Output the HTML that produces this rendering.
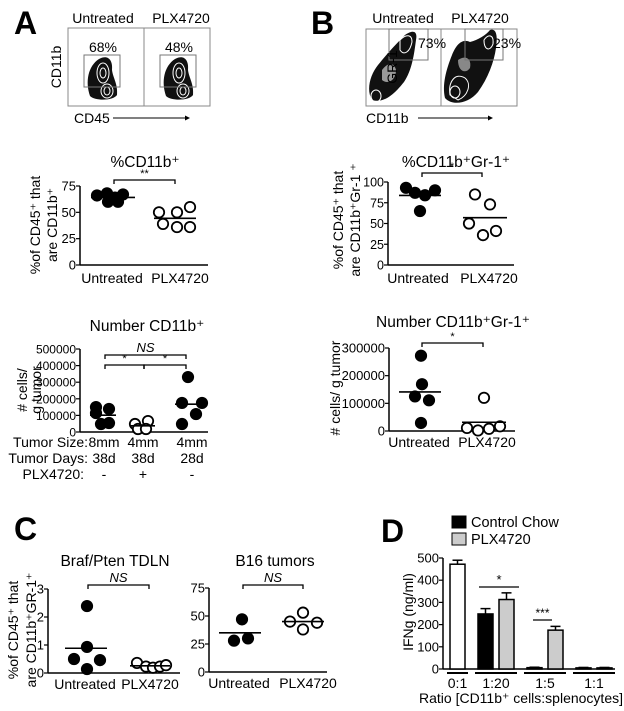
<!DOCTYPE html>
<html><head><meta charset="utf-8"><style>
html,body{margin:0;padding:0;background:#fff}
svg{display:block;font-family:"Liberation Sans",Arial,sans-serif}
</style></head><body>
<svg id="fig" width="624" height="711" viewBox="0 0 624 711" xmlns="http://www.w3.org/2000/svg">
<text x="14" y="34" font-size="32" font-weight="bold">A</text>
<text x="311" y="34" font-size="32" font-weight="bold">B</text>
<text x="14" y="540" font-size="32" font-weight="bold">C</text>
<text x="381" y="542" font-size="32" font-weight="bold">D</text>

<g>
<text x="103" y="23" font-size="14" text-anchor="middle">Untreated</text>
<text x="181" y="23" font-size="14" text-anchor="middle">PLX4720</text>
<rect x="68" y="28" width="142" height="78" fill="none" stroke="#888" stroke-width="1"/>
<line x1="144" y1="28" x2="144" y2="106" stroke="#888"/>
<path d="M90,96 C85,82 88,66 99,59 C108,54 113,60 112,70 C113,78 118,84 117,95 C113,101 95,101 90,96Z" fill="#111"/>
<ellipse cx="103" cy="73" rx="6" ry="10" fill="none" stroke="#fff" stroke-width="1"/>
<ellipse cx="103" cy="73" rx="3" ry="5" fill="none" stroke="#fff" stroke-width="1"/>
<ellipse cx="107" cy="91" rx="6" ry="7" fill="none" stroke="#fff" stroke-width="1"/>
<ellipse cx="107" cy="91" rx="3" ry="4" fill="none" stroke="#fff" stroke-width="1"/>
<path d="M166,96 C161,82 164,66 175,59 C184,54 189,60 188,70 C189,78 194,84 193,95 C189,101 171,101 166,96Z" fill="#111"/>
<ellipse cx="179" cy="73" rx="6" ry="10" fill="none" stroke="#fff" stroke-width="1"/>
<ellipse cx="179" cy="73" rx="3" ry="5" fill="none" stroke="#fff" stroke-width="1"/>
<ellipse cx="183" cy="91" rx="6" ry="7" fill="none" stroke="#fff" stroke-width="1"/>
<ellipse cx="183" cy="91" rx="3" ry="4" fill="none" stroke="#fff" stroke-width="1"/>
<rect x="84" y="55" width="36" height="32" fill="none" stroke="#777"/>
<rect x="160" y="55" width="36" height="32" fill="none" stroke="#777"/>
<text x="103" y="52" font-size="14" text-anchor="middle">68%</text>
<text x="179" y="52" font-size="14" text-anchor="middle">48%</text>
<text transform="translate(61,67) rotate(-90)" font-size="14" text-anchor="middle">CD11b</text>
<text x="74" y="123" font-size="14">CD45</text>
<line x1="113" y1="118" x2="188" y2="118" stroke="#000"/>
<path d="M190,118 l-5,-2.5 v5z" fill="#000"/>
</g>

<g>
<text x="403" y="23" font-size="14" text-anchor="middle">Untreated</text>
<text x="480" y="23" font-size="14" text-anchor="middle">PLX4720</text>
<rect x="366" y="29" width="151" height="77" fill="none" stroke="#888"/>
<line x1="441" y1="29" x2="441" y2="106" stroke="#888"/>
<path d="M372,100 C366,90 370,75 378,65 C386,55 395,45 405,35 C412,30 418,30 416,40 C414,55 412,70 404,82 C396,92 385,104 372,100Z" fill="#111"/>
<path d="M382,70 C388,62 394,62 396,70 C396,80 388,85 382,80Z" fill="#999"/>
<path d="M400,40 C406,34 412,34 412,42 C410,52 404,56 400,50Z" fill="none" stroke="#fff"/>
<ellipse cx="376" cy="96" rx="5" ry="6" fill="none" stroke="#fff"/>
<path d="M445,98 C442,85 446,70 452,55 C456,45 462,38 470,42 C478,40 486,35 490,30 C496,28 498,35 496,48 C494,62 488,78 478,92 C468,104 452,106 445,98Z" fill="#111"/>
<path d="M458,60 C465,55 472,58 470,68 C466,74 458,72 458,60Z" fill="#888"/>
<path d="M450,95 C448,82 455,72 465,78 C472,84 468,96 458,100Z" fill="none" stroke="#fff"/>
<ellipse cx="455" cy="92" rx="5" ry="6" fill="none" stroke="#fff"/>
<path d="M484,40 C488,34 494,34 493,44 C490,52 484,50 484,40Z" fill="none" stroke="#fff"/>
<rect x="389" y="29" width="39" height="31" fill="none" stroke="#777"/>
<rect x="465" y="29" width="38" height="31" fill="none" stroke="#777"/>
<text x="418" y="48" font-size="14">73%</text>
<text x="493" y="48" font-size="14">23%</text>
<text transform="translate(397,67) rotate(-90)" font-size="14" text-anchor="middle">GR-1</text>
<text x="366" y="123" font-size="14">CD11b</text>
<line x1="418" y1="118" x2="491" y2="118" stroke="#000"/>
<path d="M493,118 l-5,-2.5 v5z" fill="#000"/>
</g>

<text x="145" y="167" font-size="15.5" text-anchor="middle">%CD11b⁺</text>
<text x="147" y="331" font-size="15.5" text-anchor="middle">Number CD11b⁺</text>
<text x="456" y="167" font-size="15.5" text-anchor="middle">%CD11b⁺Gr-1⁺</text>
<text x="453" y="327" font-size="15.5" text-anchor="middle">Number CD11b⁺Gr-1⁺</text>
<text x="115" y="566" font-size="15.5" text-anchor="middle">Braf/Pten TDLN</text>
<text x="275" y="566" font-size="15.5" text-anchor="middle">B16 tumors</text>

<text transform="translate(40,225) rotate(-90)" font-size="14" text-anchor="middle">%of CD45⁺ that</text>
<text transform="translate(57,225) rotate(-90)" font-size="14" text-anchor="middle">are CD11b⁺</text>
<text transform="translate(27,390) rotate(-90)" font-size="14" text-anchor="middle"># cells/</text>
<text transform="translate(41,390) rotate(-90)" font-size="14" text-anchor="middle">g tumor</text>
<text transform="translate(343,220) rotate(-90)" font-size="14" text-anchor="middle">%of CD45⁺ that</text>
<text transform="translate(360,220) rotate(-90)" font-size="14" text-anchor="middle">are CD11b⁺Gr-1 ⁺</text>
<text transform="translate(340,388) rotate(-90)" font-size="14" text-anchor="middle"># cells/ g tumor</text>
<text transform="translate(18,630) rotate(-90)" font-size="14" text-anchor="middle">%of CD45⁺ that</text>
<text transform="translate(36,630) rotate(-90)" font-size="14" text-anchor="middle">are CD11b⁺GR-1⁺</text>
<text transform="translate(413,612) rotate(-90)" font-size="14" text-anchor="middle">IFNg (ng/ml)</text>

<g font-size="14">
<text x="88" y="447" text-anchor="end">Tumor Size:</text>
<text x="88" y="463" text-anchor="end">Tumor Days:</text>
<text x="84" y="479" text-anchor="end">PLX4720:</text>
<text x="104" y="447" text-anchor="middle">8mm</text><text x="143" y="447" text-anchor="middle">4mm</text><text x="192" y="447" text-anchor="middle">4mm</text>
<text x="104" y="463" text-anchor="middle">38d</text><text x="143" y="463" text-anchor="middle">38d</text><text x="192" y="463" text-anchor="middle">28d</text>
<text x="104" y="479" text-anchor="middle">-</text><text x="143" y="479" text-anchor="middle">+</text><text x="192" y="479" text-anchor="middle">-</text>
</g>

<rect x="452" y="516" width="14" height="12" fill="#000" stroke="#000"/>
<text x="471" y="527" font-size="14.5">Control Chow</text>
<rect x="452" y="533" width="14" height="12" fill="#ccc" stroke="#000"/>
<text x="471" y="544" font-size="14.5">PLX4720</text>
<text x="521" y="703" font-size="14" text-anchor="middle">Ratio [CD11b⁺ cells:splenocytes]</text>
</svg>
<script>
// ---------- Data ----------
const aPctUntreated = [66, 68, 64, 67, 60, 60];
const aPctPlx = [50, 50, 55, 39, 36, 36];
const aPctTicks = [0, 25, 50, 75];
const aPctCats = ['Untreated', 'PLX4720'];

const aNumG1 = [150000, 139000, 114000, 48000, 54000];
const aNumG2 = [48000, 66000, 18000, 18000];
const aNumG3 = [331000, 175000, 175000, 108000, 48000];
const aNumTicks = [0, 100000, 200000, 300000, 400000, 500000];

const bPctUntreated = [93, 87, 84, 90, 65];
const bPctPlx = [85, 73, 50, 36, 41];
const bPctTicks = [0, 25, 50, 75, 100];

const bNumUntreated = [272000, 169000, 125000, 111000, 29000];
const bNumPlx = [120000, 11000, 2000, 8000, 17000];
const bNumTicks = [0, 100000, 200000, 300000];

const cTdlnUntreated = [2.39, 0.93, 0.5, 0.46, 0.14];
const cTdlnPlx = [0.36, 0.23, 0.19, 0.23, 0.28];
const cTdlnTicks = [0, 1, 2, 3];

const cB16Untreated = [47, 28, 30];
const cB16Plx = [45, 53, 44, 38];
const cB16Ticks = [0, 25, 50, 75];

const dCategories = ['0:1', '1:20', '1:5', '1:1'];
const dBaseVals = [472, null, null, null];
const dBaseErr = [18, null, null, null];
const dChowVals = [null, 248, 6, 5];
const dChowErr = [null, 24, 2, 2];
const dPlxVals = [null, 313, 175, 5];
const dPlxErr = [null, 30, 17, 2];
const dTicks = [0, 100, 200, 300, 400, 500];

// jitter offsets (layout only)
const jA1u = [-16, -6, 2, 10, -5, 5], jA1p = [-16, 2, 15, -12, 2, 15];
const jA2a = [-7, 6, -7, -2, 6], jA2b = [-8, 5, -5, 3], jA2c = [-2, -8, 12, 6, -8];
const jB1u = [-14, -5, 5, 15, 0], jB1p = [-10, 5, -16, -2, 11];
const jB2u = [1, 2, -5, 9, 1], jB2p = [0, -17, -6, 5, 16];
const jC1u = [1, 1, -12, 14, 1], jC1p = [-13, -4, 3, 10, 16];
const jC2u = [2, -6, 8], jC2p = [-13, 0, 14, 0];

// ---------- Helpers ----------
const NS = 'http://www.w3.org/2000/svg';
const svg = document.getElementById('fig');
function mk(tag, attrs, parent) {
  const e = document.createElementNS(NS, tag);
  for (const k in attrs) e.setAttribute(k, attrs[k]);
  (parent || svg).appendChild(e);
  return e;
}
function linScale(v0, p0, v1, p1) { return v => p0 + (v - v0) * (p1 - p0) / (v1 - v0); }
function mean(a) { return a.reduce((s, v) => s + v, 0) / a.length; }

function drawAxes(g, ax, axEnd, y, ticks, fs) {
  const yl = mk('line', {x1: ax, y1: y(ticks[0]), x2: ax, y2: y(ticks[ticks.length - 1]), stroke: '#000', 'stroke-width': 1.5}, g);
  
  
  const xl = mk('line', {x1: ax, y1: y(ticks[0]), x2: axEnd, y2: y(ticks[0]), stroke: '#000', 'stroke-width': 1.5}, g);
  
  
  ticks.forEach(t => {
    mk('line', {x1: ax - 4, y1: y(t), x2: ax, y2: y(t), stroke: '#000', 'stroke-width': 1.2}, g);
    const tl = mk('text', {x: ax - 4, y: y(t) + 4.5, 'font-size': fs || 13, 'text-anchor': 'end'}, g);
    tl.textContent = t;
    
    
  });
}
function drawGroup(g, cx, vals, jit, y, filled, half) {
  vals.forEach((v, i) => {
    const c = mk('circle', {cx: cx + jit[i], cy: y(v), r: 5.2, fill: filled ? '#000' : '#fff', stroke: '#000', 'stroke-width': 1.8}, g);
    
    
  });
  const m = mean(vals);
  const ml = mk('line', {x1: cx - half, y1: y(m), x2: cx + half, y2: y(m), stroke: '#000', 'stroke-width': 1.6}, g);
  
  
}
function bracket(g, x1, x2, yb, label, italic, fs, noTicks) {
  const d = noTicks ? `M${x1},${yb}H${x2}` : `M${x1},${yb + 4}V${yb}H${x2}V${yb + 4}`;
  const p = mk('path', {d: d, fill: 'none', stroke: '#000', 'stroke-width': 1.3}, g);
  
  
  const t = mk('text', {x: (x1 + x2) / 2, y: yb - 3, 'font-size': fs || 13, 'text-anchor': 'middle'}, g);
  if (italic) t.setAttribute('font-style', 'italic');
  t.textContent = label;
  
  
}
function catLabels(g, xs, labels, yy) {
  labels.forEach((l, i) => {
    const t = mk('text', {x: xs[i], y: yy, 'font-size': 14, 'text-anchor': 'middle'}, g);
    t.textContent = l;
    
    
  });
}
function group(name) {
  const g = mk('g', {});
  
  
  return g;
}

(function () {
  const g = group('chart-a-percent');
  const y = linScale(0, 265, 75, 186);
  drawAxes(g, 80, 208, y, aPctTicks);
  drawGroup(g, 113, aPctUntreated, jA1u, y, true, 22);
  drawGroup(g, 175, aPctPlx, jA1p, y, false, 21);
  bracket(g, 114, 175, 180, '**', false, 11);
  catLabels(g, [112, 180], aPctCats, 283);
})();

(function () {
  const g = group('chart-a-number');
  const y = linScale(0, 432, 500000, 349);
  drawAxes(g, 80, 208, y, aNumTicks, 12);
  drawGroup(g, 103, aNumG1, jA2a, y, true, 13);
  drawGroup(g, 143, aNumG2, jA2b, y, false, 12);
  drawGroup(g, 190, aNumG3, jA2c, y, true, 15);
  bracket(g, 105, 186, 355, 'NS', true, 13);
  bracket(g, 105, 144, 365, '*', false, 11);
  bracket(g, 144, 186, 365, '*', false, 11);
})();

(function () {
  const g = group('chart-b-percent');
  const y = linScale(0, 265, 100, 182);
  drawAxes(g, 388, 514, y, bPctTicks, 12.5);
  drawGroup(g, 420, bPctUntreated, jB1u, y, true, 21);
  drawGroup(g, 485, bPctPlx, jB1p, y, false, 22);
  bracket(g, 422, 482, 173, '*', false, 11);
  catLabels(g, [418, 489], aPctCats, 283);
})();

(function () {
  const g = group('chart-b-number');
  const y = linScale(0, 431, 300000, 348);
  drawAxes(g, 389, 515, y, bNumTicks);
  drawGroup(g, 420, bNumUntreated, jB2u, y, true, 21);
  drawGroup(g, 484, bNumPlx, jB2p, y, false, 22);
  bracket(g, 422, 483, 343, '*', false, 11);
  catLabels(g, [419, 487], aPctCats, 447);
})();

(function () {
  const g = group('chart-c-tdln');
  const y = linScale(0, 673, 3, 589);
  drawAxes(g, 48, 180, y, cTdlnTicks);
  drawGroup(g, 86, cTdlnUntreated, jC1u, y, true, 21);
  drawGroup(g, 150, cTdlnPlx, jC1p, y, false, 20);
  bracket(g, 88, 149, 585, 'NS', true, 13);
  catLabels(g, [85, 150], aPctCats, 689);
})();

(function () {
  const g = group('chart-c-b16');
  const y = linScale(0, 672, 75, 588);
  drawAxes(g, 209, 327, y, cB16Ticks);
  drawGroup(g, 240, cB16Untreated, jC2u, y, true, 21);
  drawGroup(g, 303, cB16Plx, jC2p, y, false, 21);
  bracket(g, 243, 303, 585, 'NS', true, 13);
  catLabels(g, [239, 308], aPctCats, 688);
})();

(function () {
  const g = group('chart-d-ifng');
  const y = linScale(0, 669, 500, 558);
  drawAxes(g, 443, 443, y, dTicks);
  const xl = mk('line', {x1: 443, y1: 669, x2: 615, y2: 669, stroke: '#000', 'stroke-width': 1.5}, g);
  
  
  const bw = 15, inner = 6, gap = 13;
  let x = 450;
  const series = [[dBaseVals, dBaseErr, '#fff', 'bar-untreated'], [dChowVals, dChowErr, '#000', 'bar-control-chow'], [dPlxVals, dPlxErr, '#ccc', 'bar-plx4720']];
  const centers = [];
  dCategories.forEach((cat, ci) => {
    const start = x;
    let n = 0;
    series.forEach(s => {
      const v = s[0][ci];
      if (v === null || v === undefined) return;
      if (n > 0) x += inner;
      const e = s[1][ci];
      const el = mk('line', {x1: x + bw / 2, y1: y(v), x2: x + bw / 2, y2: y(v + e), stroke: '#000', 'stroke-width': 1.5}, g);
      
      
      const ec = mk('line', {x1: x + bw / 2 - 5, y1: y(v + e), x2: x + bw / 2 + 5, y2: y(v + e), stroke: '#000', 'stroke-width': 1.5}, g);
      
      
      const r = mk('rect', {x: x, y: y(v), width: bw, height: Math.max(y(0) - y(v), 1), fill: s[2], stroke: '#000', 'stroke-width': 1.5}, g);
      
      
      x += bw; n++;
    });
    const end = x;
    const ul = mk('line', {x1: start - 3, y1: 673, x2: end + 3, y2: 673, stroke: '#000', 'stroke-width': 2}, g);
    
    
    centers.push((start + end) / 2);
    x += gap;
  });
  catLabels(g, centers, dCategories, 688);
  bracket(g, 479, 519, 587, '*', false, 13, true);
  bracket(g, 533, 552, 620, '***', false, 12, true);
})();
</script>
</body></html>
